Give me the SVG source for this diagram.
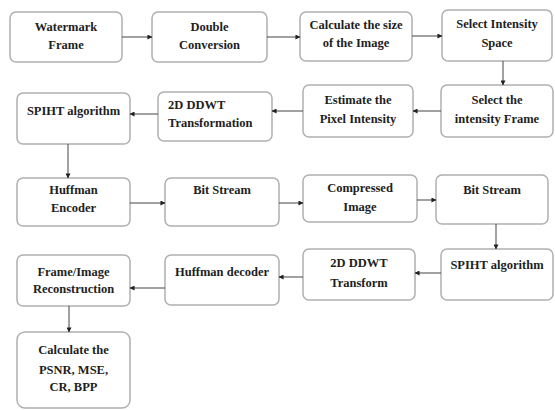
<svg xmlns="http://www.w3.org/2000/svg" width="555" height="410" viewBox="0 0 555 410">
  <style>
    .box { fill: #ffffff; stroke: #b0b0b0; stroke-width: 1.5; }
    .lbl { font-family: 'Liberation Serif', 'Times New Roman', serif; font-weight: bold; font-size: 12.5px; fill: #1e1e1e; text-anchor: middle; }
    .lft { text-anchor: start; }
    .conn { stroke: #444; stroke-width: 1; fill: none; marker-end: url(#dot); }
  </style>
  <defs>
    <marker id="dot" viewBox="0 0 6 6" refX="5.5" refY="3" markerWidth="5" markerHeight="5" orient="auto" markerUnits="userSpaceOnUse">
      <path d="M0,0 L6,3 L0,6 z" fill="#222"/>
    </marker>
  </defs>
  <rect width="555" height="410" fill="#ffffff"/>

  <!-- row 1 -->
  <g id="watermark-frame">
    <rect class="box" x="10" y="12" width="112" height="50" rx="6"/>
    <text class="lbl" x="66" y="31">Watermark</text>
    <text class="lbl" x="66" y="49">Frame</text>
  </g>
  <g id="double-conversion">
    <rect class="box" x="152" y="12" width="115" height="50" rx="6"/>
    <text class="lbl" x="209.5" y="31">Double</text>
    <text class="lbl" x="209.5" y="49">Conversion</text>
  </g>
  <g id="calc-size">
    <rect class="box" x="300" y="12" width="112" height="49" rx="6"/>
    <text class="lbl" x="356" y="29">Calculate the size</text>
    <text class="lbl" x="356" y="47">of the Image</text>
  </g>
  <g id="select-space">
    <rect class="box" x="442" y="10" width="110" height="51" rx="6"/>
    <text class="lbl" x="497" y="28">Select Intensity</text>
    <text class="lbl" x="497" y="47">Space</text>
  </g>

  <!-- row 2 -->
  <g id="spiht-1">
    <rect class="box" x="17" y="93" width="113" height="51" rx="6"/>
    <text class="lbl" x="73.5" y="115">SPIHT algorithm</text>
  </g>
  <g id="ddwt-1">
    <rect class="box" x="158" y="92" width="114" height="49" rx="6"/>
    <text class="lbl lft" x="168" y="109">2D DDWT</text>
    <text class="lbl lft" x="168" y="127">Transformation</text>
  </g>
  <g id="estimate">
    <rect class="box" x="303" y="85" width="110" height="52" rx="6"/>
    <text class="lbl" x="358" y="104">Estimate the</text>
    <text class="lbl" x="358" y="123">Pixel Intensity</text>
  </g>
  <g id="select-frame">
    <rect class="box" x="441" y="85" width="112" height="52" rx="6"/>
    <text class="lbl" x="497" y="104">Select the</text>
    <text class="lbl" x="497" y="123">intensity Frame</text>
  </g>

  <!-- row 3 -->
  <g id="huffman-encoder">
    <rect class="box" x="17" y="178" width="113" height="48" rx="6"/>
    <text class="lbl" x="73.5" y="194">Huffman</text>
    <text class="lbl" x="73.5" y="212">Encoder</text>
  </g>
  <g id="bit-stream-1">
    <rect class="box" x="165" y="178" width="114" height="48" rx="6"/>
    <text class="lbl" x="222" y="194">Bit Stream</text>
  </g>
  <g id="compressed">
    <rect class="box" x="303" y="175" width="114" height="47" rx="6"/>
    <text class="lbl" x="360" y="192">Compressed</text>
    <text class="lbl" x="360" y="211">Image</text>
  </g>
  <g id="bit-stream-2">
    <rect class="box" x="436" y="175" width="112" height="49" rx="6"/>
    <text class="lbl" x="492" y="194">Bit Stream</text>
  </g>

  <!-- row 4 -->
  <g id="reconstruction">
    <rect class="box" x="17" y="255" width="113" height="51" rx="6"/>
    <text class="lbl" x="73.5" y="276">Frame/Image</text>
    <text class="lbl" x="73.5" y="293">Reconstruction</text>
  </g>
  <g id="huffman-decoder">
    <rect class="box" x="165" y="255" width="114" height="50" rx="6"/>
    <text class="lbl" x="222" y="276">Huffman decoder</text>
  </g>
  <g id="ddwt-2">
    <rect class="box" x="303" y="249" width="112" height="51" rx="6"/>
    <text class="lbl" x="359" y="267">2D DDWT</text>
    <text class="lbl" x="359" y="287">Transform</text>
  </g>
  <g id="spiht-2">
    <rect class="box" x="441" y="249" width="112" height="51" rx="6"/>
    <text class="lbl" x="497" y="269">SPIHT algorithm</text>
  </g>

  <!-- row 5 -->
  <g id="metrics">
    <rect class="box" x="17" y="332" width="113" height="76" rx="8"/>
    <text class="lbl" x="73.5" y="354">Calculate the</text>
    <text class="lbl" x="73.5" y="374">PSNR, MSE,</text>
    <text class="lbl" x="73.5" y="391">CR, BPP</text>
  </g>

  <g id="connectors">
    <line class="conn" x1="122" y1="37" x2="152" y2="37"/>
    <line class="conn" x1="267" y1="37" x2="300" y2="37"/>
    <line class="conn" x1="412" y1="36" x2="442" y2="36"/>
    <line class="conn" x1="503" y1="61" x2="503" y2="85"/>
    <line class="conn" x1="441" y1="111" x2="413" y2="111"/>
    <line class="conn" x1="303" y1="111" x2="272" y2="111"/>
    <line class="conn" x1="158" y1="114" x2="130" y2="114"/>
    <line class="conn" x1="68" y1="144" x2="68" y2="178"/>
    <line class="conn" x1="130" y1="203" x2="165" y2="203"/>
    <line class="conn" x1="279" y1="203" x2="303" y2="203"/>
    <line class="conn" x1="417" y1="200" x2="436" y2="200"/>
    <line class="conn" x1="496" y1="224" x2="496" y2="249"/>
    <line class="conn" x1="441" y1="273" x2="415" y2="273"/>
    <line class="conn" x1="303" y1="277" x2="279" y2="277"/>
    <line class="conn" x1="165" y1="288" x2="130" y2="288"/>
    <line class="conn" x1="69" y1="306" x2="69" y2="332"/>
  </g>
</svg>
